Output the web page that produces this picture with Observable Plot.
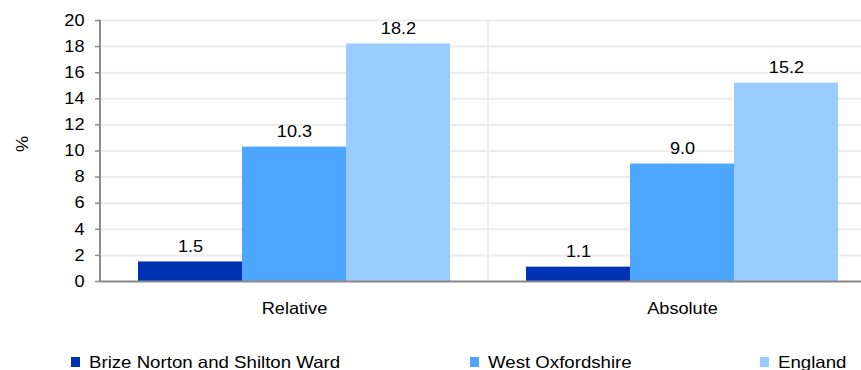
<!DOCTYPE html>
<html>
<head>
<meta charset="utf-8">
<script src="https://cdn.jsdelivr.net/npm/d3@7"></script>
<script src="https://cdn.jsdelivr.net/npm/@observablehq/plot@0.6"></script>
<style>
  html, body { margin: 0; padding: 0; background: #fff; overflow: hidden; width: 861px; height: 370px; }
  #chart { position: relative; width: 861px; height: 370px; font-family: "Liberation Sans", Arial, sans-serif; }
  #chart svg { position: absolute; left: 0; top: 0; overflow: visible; max-width: none !important; }
  .legend { position: absolute; top: 352px; left: 0; width: 861px; height: 20px; font-size: 16.5px; color: #000; }
  .legend .item { position: absolute; top: 0; white-space: nowrap; line-height: 20px; }
  .legend .sw { position: absolute; left: 0; top: 5px; width: 9px; height: 10px; }
  .legend .lbl { position: absolute; left: 18px; top: 0; display: inline-block; transform: scaleX(1.13); transform-origin: 0 50%; }
</style>
</head>
<body>
<div id="chart"></div>
<script>
const groups = ["Relative", "Absolute"];
const series = ["Brize Norton and Shilton Ward", "West Oxfordshire", "England"];
const relativeValues = [1.5, 10.3, 18.2];
const absoluteValues = [1.1, 9.0, 15.2];
const colors = ["#0033b4", "#4da6ff", "#99ccff"];
const yTicks = [0, 2, 4, 6, 8, 10, 12, 14, 16, 18, 20];
const legendLeft = [71, 470, 760];

const valuesByGroup = {Relative: relativeValues, Absolute: absoluteValues};
const data = [];
for (const g of groups) {
  series.forEach((s, i) => data.push({group: g, series: s, value: valuesByGroup[g][i]}));
}

const SVGNS = "http://www.w3.org/2000/svg";
// light separator on the left edge of each facet frame
function facetSeparator(index, scales, values, dims) {
  const {marginLeft, marginTop, marginBottom, height} = dims;
  const line = document.createElementNS(SVGNS, "line");
  line.setAttribute("x1", marginLeft); line.setAttribute("x2", marginLeft);
  line.setAttribute("y1", marginTop); line.setAttribute("y2", height - marginBottom);
  line.setAttribute("stroke", "#ececec"); line.setAttribute("stroke-width", 2);
  return line;
}

const FS = 16.5;
const plot = Plot.plot({
  width: 876,
  height: 330,
  marginLeft: 100,
  marginRight: 0,
  marginTop: 20,
  marginBottom: 49,
  style: {fontFamily: "Liberation Sans, Arial, sans-serif", fontSize: FS + "px", color: "#000", background: "transparent"},
  fx: {domain: groups, padding: 0, label: null},
  x: {domain: series, paddingInner: 0, paddingOuter: 0.365, axis: null},
  y: {domain: [0, 20], label: null},
  color: {domain: series, range: colors},
  marks: [
    Plot.gridY(yTicks, {stroke: "#ececec", strokeOpacity: 1, strokeWidth: 2}),
    facetSeparator,
    Plot.barY(data, {fx: "group", x: "series", y: "value", fill: "series"}),
    Plot.text(data, {fx: "group", x: "series", y: "value", text: d => d.value.toFixed(1), lineAnchor: "bottom", dy: -10, fontSize: FS, fill: "#000"}),
    Plot.ruleY([0], {stroke: "#8c8c8c", strokeWidth: 2}),
    Plot.axisY(yTicks, {tickSize: 5, tickPadding: 11, stroke: "#8c8c8c", strokeWidth: 1.5, fontSize: FS, label: null}),
    Plot.axisFx({anchor: "bottom", tickSize: 0, tickPadding: 21, fontSize: FS, label: null}),
    Plot.text(["%"], {fx: ["Relative"], frameAnchor: "left", dx: -78, dy: 1, rotate: -90, fontSize: FS, fill: "#000"})
  ]
});

const chart = document.getElementById("chart");
chart.appendChild(plot);

// y axis line, positioned with the plot's own y scale
const yScale = plot.scale("y");
d3.select(plot).append("line")
  .attr("x1", 100).attr("x2", 100)
  .attr("y1", yScale.apply(20)).attr("y2", yScale.apply(0) + 1)
  .attr("stroke", "#8c8c8c").attr("stroke-width", 2);

// widen text slightly to match the reference's letter proportions
d3.select(plot).selectAll("text").each(function () {
  const len = this.getComputedTextLength();
  if (len > 0) {
    this.setAttribute("textLength", (len * 1.1).toFixed(2));
    this.setAttribute("lengthAdjust", "spacingAndGlyphs");
  }
});

const legend = document.createElement("div");
legend.className = "legend";
series.forEach((s, i) => {
  const item = document.createElement("div");
  item.className = "item";
  item.style.left = legendLeft[i] + "px";
  const sw = document.createElement("span");
  sw.className = "sw";
  sw.style.background = colors[i];
  item.appendChild(sw);
  const lbl = document.createElement("span");
  lbl.className = "lbl";
  lbl.textContent = s;
  item.appendChild(lbl);
  legend.appendChild(item);
});
chart.appendChild(legend);
</script>
</body>
</html>
